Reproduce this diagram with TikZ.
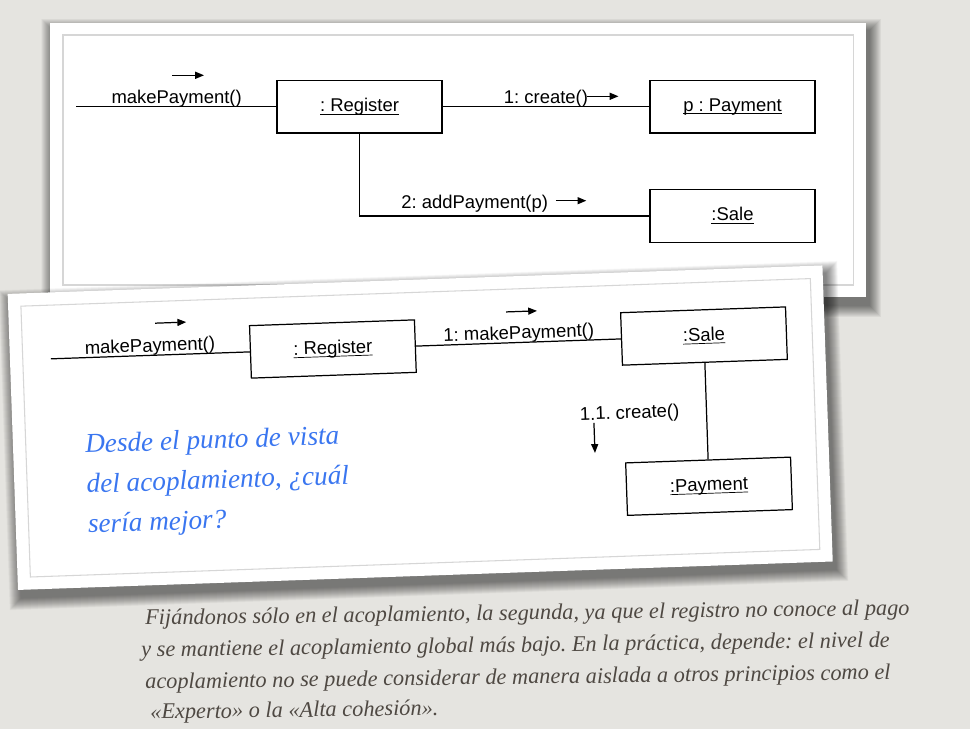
\documentclass[tikz,border=0pt]{standalone}
\usepackage{fontspec}
\usetikzlibrary{arrows.meta}
\newfontfamily\diagfont{Liberation Sans}
\newfontfamily\handfont{Liberation Serif}
\definecolor{slidebg}{RGB}{229,228,224}
\definecolor{framegray}{RGB}{214,214,214}
\definecolor{handblue}{RGB}{58,118,240}
\definecolor{notegray}{RGB}{78,72,66}

\begin{document}
\frenchspacing
\begin{tikzpicture}[
    x=0.02cm, y=-0.02cm,
    box/.style={draw, line width=0.7pt, minimum width=3.3cm, minimum height=1.05cm,
        inner sep=0pt, font=\diagfont\fontsize{10.5}{12}\selectfont},
    lbl/.style={inner sep=0pt, anchor=base, font=\diagfont\fontsize{10.5}{12}\selectfont},
    msg/.style={line width=0.7pt, -{Triangle[length=5pt,width=4pt]}},
    link/.style={line width=0.7pt},
    hand/.style={text=handblue, inner sep=0pt, anchor=base west,
        font=\handfont\itshape\fontsize{15.5}{18}\selectfont},
    note/.style={text=notegray, inner sep=0pt, anchor=base west, rotate=0.75,
        font=\handfont\itshape\fontsize{12.7}{15}\selectfont},
    card/.style={fill=white},
    frame/.style={draw=framegray, line width=0.6pt}
  ]

  \fill[slidebg] (0,0) rectangle (970,729);
  \useasboundingbox (0,0) rectangle (970,729);

  % first card
  \foreach \r in {0.5,1,...,12}
    \fill[black, opacity=0.022] (50+3-\r,22.7+8-\r) rectangle (866+3+\r,297.3+8+\r);
  \fill[card] (50,22.7) rectangle (866,297.3);
  \draw[frame] (63,35) rectangle (853.3,285);

  \node[box] (reg1) at (359.5,106.7) {\underbar{: Register}};
  \node[box] (pay1) at (732.5,106.7) {\underbar{p : Payment}};
  \node[box] (sale1) at (732.5,216) {\underbar{:Sale}};
  \coordinate (in1) at (76,106.7);

  % Edges
  \draw[link] (in1) -- (reg1);
  \draw[link] (reg1) -- (pay1);
  \draw[link] (reg1.south) |- (sale1.west);

  % Messages
  \node[lbl] (mp1) at (176.6,103.3) {makePayment()};
  \node[lbl] (cr1) at (546,103.3) {1: create()};
  \node[lbl] (add1) at (474.7,208.3) {2: addPayment(p)};
  \coordinate (a1s) at (172,75.3);   \coordinate (a1e) at (204,75.3);
  \coordinate (a2s) at (587,96.3);   \coordinate (a2e) at (618.5,96.3);
  \coordinate (a3s) at (555.8,200.7); \coordinate (a3e) at (586.3,200.7);
  \draw[msg] (a1s) -- (a1e);
  \draw[msg] (a2s) -- (a2e);
  \draw[msg] (a3s) -- (a3e);

  % second card, slightly turned
  \begin{scope}[rotate around={2:(420.2,427.7)}, transform shape]
    \foreach \r in {0.5,1,...,12}
      \fill[black, opacity=0.022] (12.6+3-\r,279.6+8-\r) rectangle (827.8+3+\r,575.8+8+\r);
    \fill[card] (12.6,279.6) rectangle (827.8,575.8);
    \draw[frame] (25.4,292.3) rectangle (815.3,563.3);

    \node[box] (reg2) at (335.7,346) {\underbar{: Register}};
    \node[box] (sale2) at (707,346) {\underbar{:Sale}};
    \node[box] (pay2) at (706.8,496.3) {\underbar{:Payment}};
    \coordinate (in2) at (53.5,346);

    % Edges
    \draw[link] (in2) -- (reg2);
    \draw[link] (reg2) -- (sale2);
    \draw[link] (sale2) -- (pay2);

    % Messages
    \node[lbl] (mp2) at (153,342.5) {makePayment()};
    \node[lbl] (mp3) at (522,342.5) {1: makePayment()};
    \node[lbl] (cr2) at (630,426) {1.1. create()};
    \coordinate (a4s) at (159,314);   \coordinate (a4e) at (190,314);
    \coordinate (a5s) at (510,315);   \coordinate (a5e) at (541,315);
    \coordinate (a6s) at (594,429);   \coordinate (a6e) at (594,459);
    \draw[msg] (a4s) -- (a4e);
    \draw[msg] (a5s) -- (a5e);
    \draw[msg] (a6s) -- (a6e);

    % question
    \node[hand] (q1) at (84.5,441.3) {Desde el punto de vista};
    \node[hand] (q2) at (84.5,481.3) {del acoplamiento, ¿cuál};
    \node[hand] (q3) at (84.5,521.3) {sería mejor?};
  \end{scope}

  % answer
  \node[note] (n1) at (145,625) {Fijándonos sólo en el acoplamiento, la segunda, ya que el registro no conoce al pago};
  \node[note] (n2) at (141,657) {y se mantiene el acoplamiento global más bajo. En la práctica, depende: el nivel de};
  \node[note] (n3) at (145,689) {acoplamiento no se puede considerar de manera aislada a otros principios como el};
  \node[note] (n4) at (150,719) {«Experto» o la «Alta cohesión».};
\end{tikzpicture}
\end{document}
